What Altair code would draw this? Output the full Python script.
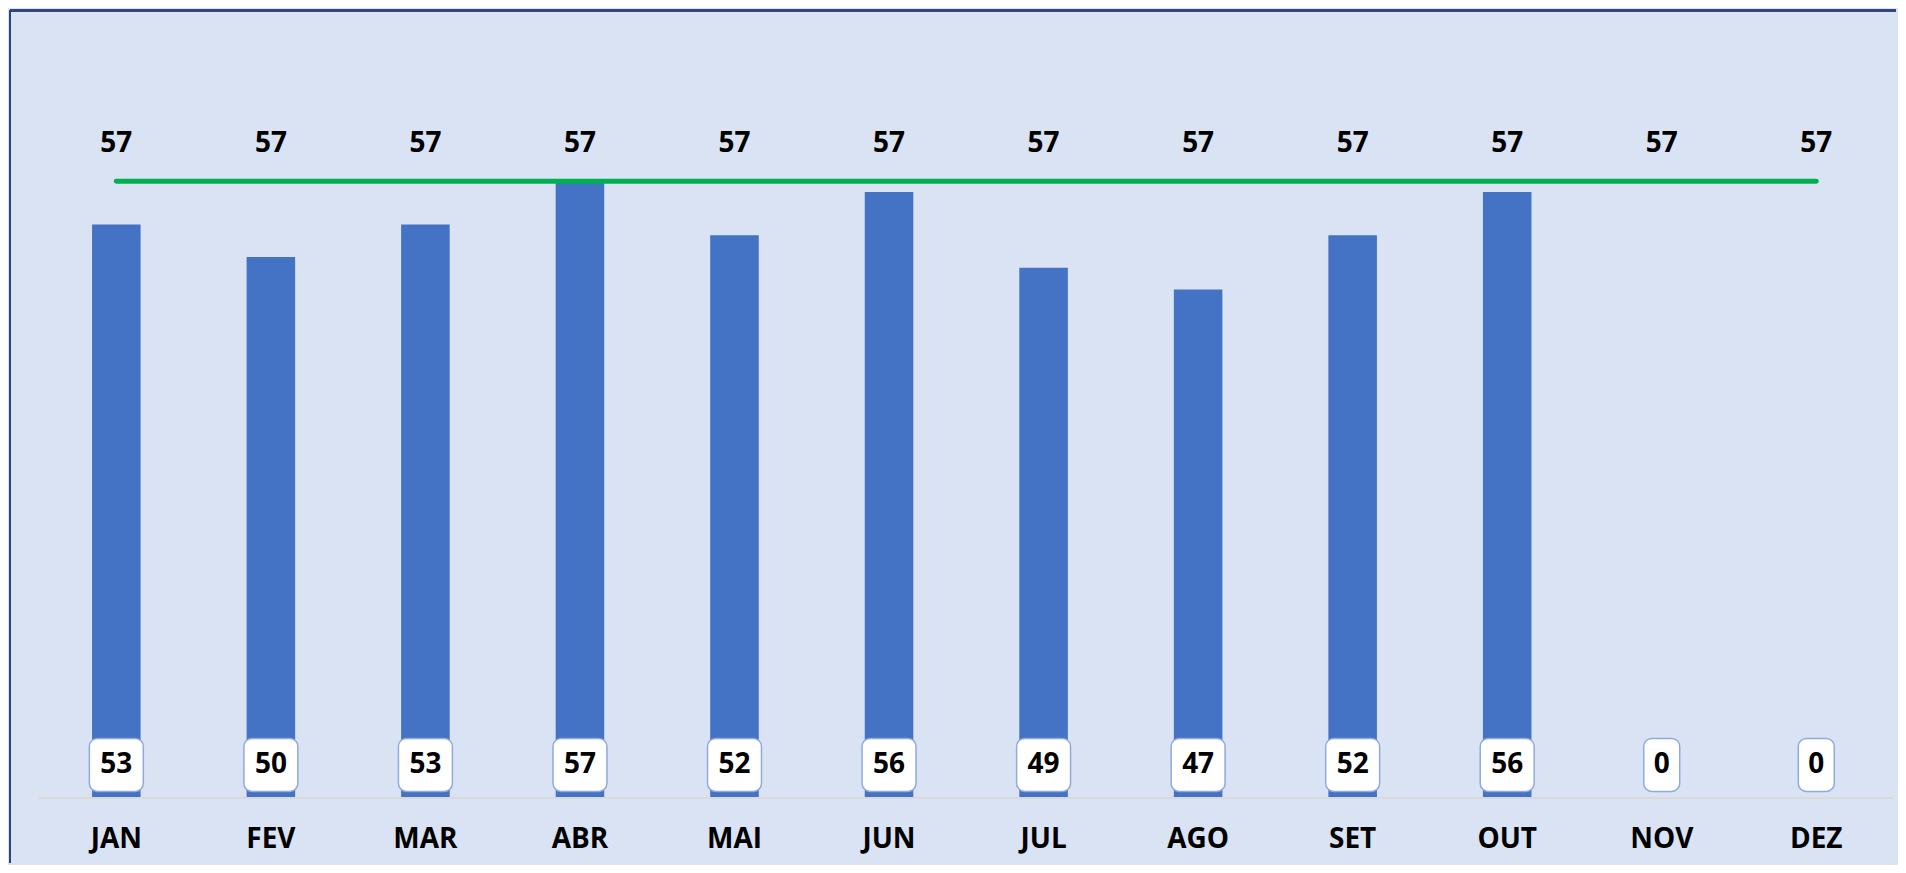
import altair as alt
import pandas as pd

months = ["JAN", "FEV", "MAR", "ABR", "MAI", "JUN", "JUL", "AGO", "SET", "OUT", "NOV", "DEZ"]
values = [53, 50, 53, 57, 52, 56, 49, 47, 52, 56, 0, 0]
meta = [57, 57, 57, 57, 57, 57, 57, 57, 57, 57, 57, 57]

df = pd.DataFrame({"mes": months, "valor": values, "meta": meta})

FONT = "Open Sans"
W, H = 1888, 853

xs = alt.X("mes:N", sort=months, axis=None,
           scale=alt.Scale(paddingInner=0, paddingOuter=0.102, align=0.922))
ysc = alt.Scale(domain=[-6.0, 72.8], nice=False, zero=False)

base = alt.Chart(df)

bars = base.mark_bar(color="#4472C4", width=48.6).encode(
    x=xs,
    y=alt.Y("valor:Q", scale=ysc, axis=None),
    y2=alt.datum(0),
)

baseline = base.mark_rule(color="#D9D9D9", strokeWidth=1.5).encode(
    x=alt.value(29), x2=alt.value(1886), y=alt.datum(0)
)

# frame (top and left edges; the chart runs off the right/bottom in the original)
frame_top = base.mark_rule(color="#2F4478", strokeWidth=1.5).encode(
    x=alt.value(0), x2=alt.value(W), y=alt.value(0)
)
frame_left = base.mark_rule(color="#2F4478", strokeWidth=1.5).encode(
    x=alt.value(0), y=alt.value(0), y2=alt.value(H)
)

line = base.mark_line(color="#00B050", strokeWidth=5, strokeCap="round").encode(
    x=xs, y=alt.Y("meta:Q", scale=ysc)
)

meta_labels = base.mark_text(font=FONT, fontSize=28, fontWeight="bold", color="#000000",
                             baseline="middle", dy=-37.5).encode(
    x=xs, y=alt.Y("meta:Q", scale=ysc), text="meta:Q"
)

boxes = base.transform_calculate(
    bw="length(toString(datum.valor)) * 18 + 18"
).mark_bar(fill="white", stroke="#8FAADC", strokeWidth=1.5, cornerRadius=8).encode(
    x=xs,
    y=alt.datum(0.58),
    y2=alt.datum(5.48),
    size=alt.Size("bw:Q", scale=None, legend=None),
)

box_text = base.mark_text(font=FONT, fontSize=28, fontWeight="bold", color="#000000",
                          baseline="middle", dy=-33).encode(
    x=xs, y=alt.datum(0), text="valor:Q"
)

xlabels = base.mark_text(font=FONT, fontSize=28, fontWeight="bold", color="#000000",
                         baseline="middle", dy=42.5).encode(
    x=xs, y=alt.datum(0), text="mes:N"
)

chart = alt.layer(bars, baseline, frame_top, frame_left, line, meta_labels, boxes,
                  box_text, xlabels).properties(
    width=W, height=H, padding=1, background="#DAE3F3"
).configure_view(
    strokeWidth=0, fill="#DAE3F3"
)

chart.save("out.html", embed_options={"renderer": "svg", "actions": False})
